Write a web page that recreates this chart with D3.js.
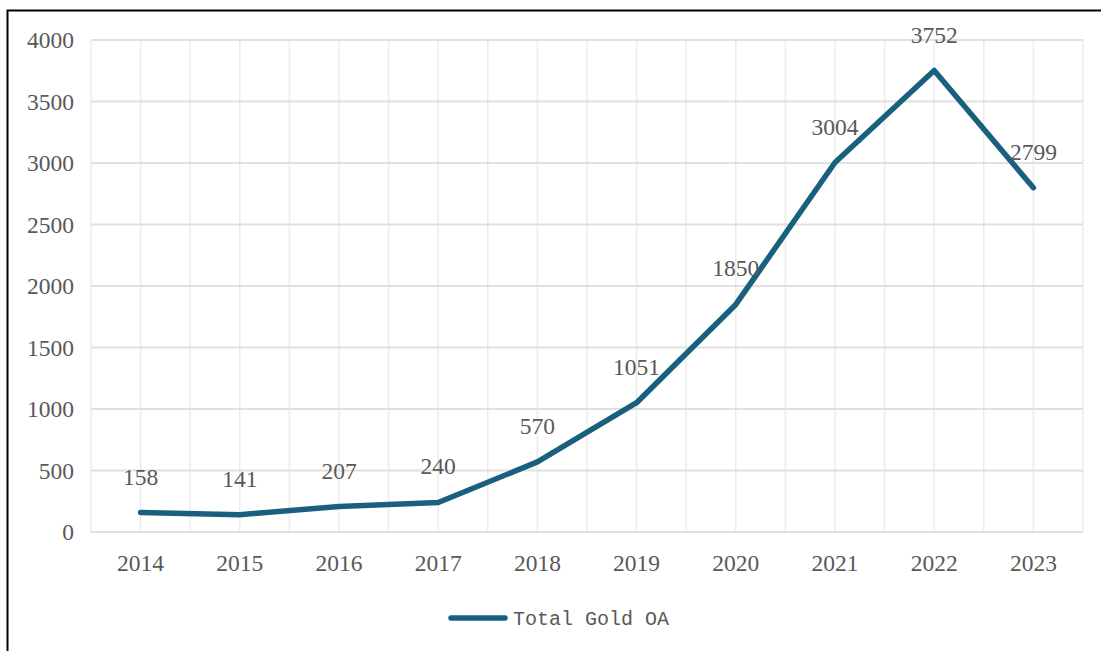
<!DOCTYPE html>
<html><head><meta charset="utf-8">
<script src="https://cdn.jsdelivr.net/npm/d3@7"></script>
<style>body{margin:0;background:#fff}svg{display:block}</style>
</head><body>
<svg id="c" width="1101" height="651"></svg>
<script>
const years = ["2014","2015","2016","2017","2018","2019","2020","2021","2022","2023"];
const totalGoldOA = [158,141,207,240,570,1051,1850,3004,3752,2799];
const yTicks = [0,500,1000,1500,2000,2500,3000,3500,4000];
const seriesName = "Total Gold OA";

const svg = d3.select("#c");
const W=1101,H=651;
const m={l:91,r:1083,t:40,b:532};
const color="#19607e", txt="#595959", grid="#e0e0e0";

// frame
svg.append("path").attr("d",`M7.5,${H+5} V10.5 H${W+5}`).attr("fill","none").attr("stroke","#000").attr("stroke-width",2);

const x=d3.scaleBand().domain(years).range([m.l,m.r]);
const y=d3.scaleLinear().domain([0,4000]).range([m.b,m.t]);

// vertical grid: band edges and centers
const vx=[];
years.forEach(d=>{vx.push(x(d)); vx.push(x(d)+x.bandwidth()/2);});
vx.push(m.r);
svg.append("g").selectAll("line").data(vx).join("line")
  .attr("x1",d=>d).attr("x2",d=>d).attr("y1",m.t).attr("y2",m.b)
  .attr("stroke","#ececec").attr("stroke-width",1.5);
// horizontal grid
svg.append("g").selectAll("line").data(yTicks).join("line")
  .attr("x1",m.l).attr("x2",m.r).attr("y1",d=>y(d)).attr("y2",d=>y(d))
  .attr("stroke",grid).attr("stroke-width",1.8);

const font="'Liberation Serif','Times New Roman',serif";
const fs=23.5;
// y axis labels
const ya=d3.axisLeft(y).tickValues(yTicks).tickFormat(d3.format("d")).tickSize(0).tickPadding(17);
const gy=svg.append("g").attr("transform",`translate(${m.l},0)`).call(ya);
gy.select(".domain").remove();
gy.selectAll("text").attr("font-family",font).attr("font-size",fs).attr("fill",txt);

// x axis labels
const xa=d3.axisBottom(x).tickSize(0).tickPadding(22);
const gx=svg.append("g").attr("transform",`translate(0,${m.b})`).call(xa);
gx.select(".domain").remove();
gx.selectAll("text").attr("font-family",font).attr("font-size",fs).attr("fill",txt);

const cx=d=>x(d)+x.bandwidth()/2;
const data=years.map((d,i)=>({year:d,v:totalGoldOA[i]}));
svg.append("path").datum(data)
  .attr("d",d3.line().x(d=>cx(d.year)).y(d=>y(d.v)))
  .attr("fill","none").attr("stroke",color).attr("stroke-width",5.5)
  .attr("stroke-linejoin","round").attr("stroke-linecap","round");

svg.append("g").selectAll("text").data(data).join("text")
  .attr("x",d=>cx(d.year)).attr("y",d=>y(d.v)-28)
  .attr("text-anchor","middle").attr("font-family",font).attr("font-size",fs)
  .attr("fill",txt).text(d=>d.v);

// legend
svg.append("line").attr("x1",451).attr("x2",505).attr("y1",618).attr("y2",618)
  .attr("stroke",color).attr("stroke-width",5.5).attr("stroke-linecap","round");
svg.append("text").attr("x",513).attr("y",625).attr("font-family","'Liberation Mono',monospace")
  .attr("font-size",20).attr("fill",txt).text(seriesName);
</script>
</body></html>
